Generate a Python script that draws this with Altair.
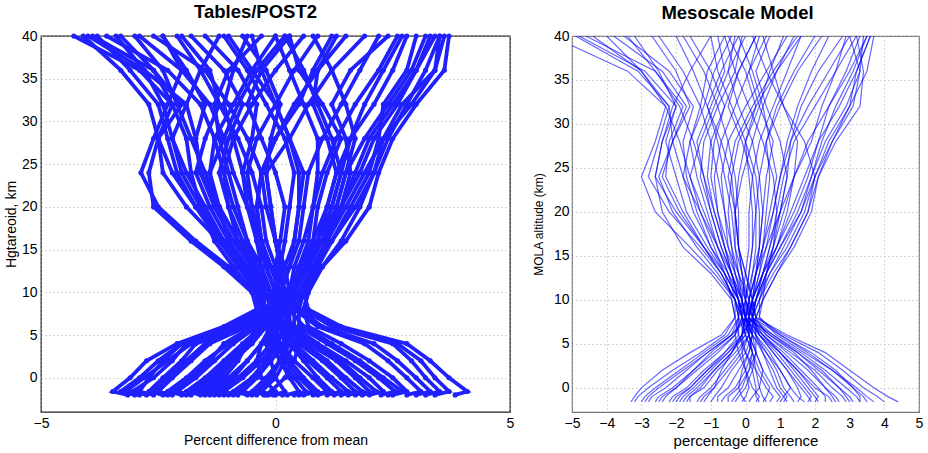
import altair as alt
import pandas as pd

# ---------------- Left panel: Tables/POST2 ----------------
left_levels = [-2, -1.6, 0, 2, 4, 6, 8, 10, 13, 16, 20, 24, 28, 32, 36, 40]
left_profiles = [
    [-3.15, -3.47, -3.1, -2.75, -2.1, -1.1, -0.4, -0.5, -0.9, -1.3, -1.6, -1.8, -1.9, -2.2, -2.6, -3.3],
    [-2.6, -2.9, -2.7, -2.4, -2.0, -0.9, -0.3, -0.3, -0.7, -1.2, -1.9, -2.4, -2.5, -2.2, -2.9, -4.3],
    [-2.4, -2.7, -2.4, -2.0, -1.7, -0.7, -0.2, -0.4, -1.0, -1.7, -2.5, -2.87, -2.6, -2.3, -2.0, -2.4],
    [-2.2, -2.5, -2.2, -1.8, -1.4, -0.6, 0.0, -0.1, -0.3, -0.6, -0.9, -1.1, -1.3, -1.6, -2.3, -3.6],
    [-2.0, -2.3, -1.9, -1.5, -1.0, -0.5, -0.2, -0.3, -0.6, -1.0, -1.4, -1.7, -1.5, -1.2, -1.4, -2.0],
    [-1.8, -2.1, -1.7, -1.3, -0.9, -0.4, 0.1, 0.0, -0.2, -0.4, -0.6, -0.7, -0.5, -0.4, -0.8, -1.5],
    [-1.6, -1.9, -1.5, -1.1, -0.7, -0.3, -0.1, -0.2, -0.5, -0.8, -1.2, -1.5, -1.8, -2.1, -2.4, -3.0],
    [-1.4, -1.7, -1.3, -0.9, -0.5, -0.2, 0.2, 0.3, 0.2, 0.0, -0.2, -0.3, -0.6, -1.0, -1.5, -2.6],
    [-1.2, -1.5, -1.1, -0.8, -0.6, -0.4, 0.0, 0.1, -0.1, -0.3, -0.5, -0.7, -0.9, -1.1, -0.9, -0.6],
    [-1.0, -1.3, -0.9, -0.6, -0.3, -0.1, -0.3, -0.4, -0.7, -1.1, -1.5, -1.9, -2.2, -1.9, -1.6, -1.2],
    [-0.8, -1.1, -0.7, -0.3, 0.0, 0.3, 0.3, 0.2, 0.1, 0.0, -0.1, -0.2, -0.1, 0.1, -0.2, -0.7],
    [-0.6, -0.9, -0.5, -0.2, 0.1, 0.0, -0.1, -0.2, -0.4, -0.6, -0.8, -1.0, -1.2, -1.3, -1.0, -0.3],
    [-0.4, -0.7, -0.4, -0.1, 0.2, 0.1, 0.1, 0.3, 0.5, 0.7, 0.8, 0.9, 0.9, 0.6, 0.3, 0.0],
    [-0.2, -0.5, -0.2, 0.1, 0.3, 0.2, 0.0, 0.0, 0.1, 0.2, 0.3, 0.4, 0.2, -0.2, -0.6, -1.1],
    [-0.05, -0.3, 0.0, 0.2, 0.4, 0.3, 0.2, 0.4, 0.7, 1.0, 1.3, 1.5, 1.7, 1.5, 1.2, 0.8],
    [0.0, 0.2, 0.0, -0.1, -0.2, -0.1, 0.0, -0.1, -0.3, -0.4, -0.5, -0.6, -0.4, 0.0, 0.4, 0.9],
    [0.25, 0.5, 0.3, 0.1, -0.1, -0.2, -0.1, 0.1, 0.3, 0.5, 0.6, 0.7, 1.0, 1.4, 1.8, 2.2],
    [0.5, 0.8, 0.5, 0.2, 0.0, -0.2, 0.0, 0.2, 0.6, 1.0, 1.4, 1.7, 2.0, 2.5, 3.0, 3.4],
    [0.8, 1.1, 0.8, 0.4, 0.1, -0.1, -0.2, 0.0, 0.2, 0.4, 0.5, 0.6, 0.3, 0.0, -0.3, -0.5],
    [1.1, 1.4, 1.1, 0.7, 0.3, 0.1, 0.2, 0.3, 0.5, 0.8, 1.1, 1.3, 1.1, 0.8, 0.9, 1.3],
    [1.4, 1.7, 1.4, 1.0, 0.5, 0.0, -0.2, -0.4, -0.7, -1.0, -1.2, -1.4, -1.3, -0.9, -0.5, 0.0],
    [1.7, 2.0, 1.7, 1.3, 0.7, 0.2, 0.3, 0.5, 0.8, 1.1, 1.5, 1.9, 2.3, 2.9, 3.4, 3.6],
    [2.0, 2.3, 2.0, 1.5, 0.9, 0.4, 0.4, 0.6, 1.0, 1.4, 1.8, 2.1, 2.4, 2.8, 3.2, 3.5],
    [2.25, 2.55, 2.2, 1.7, 1.1, 0.5, 0.5, 0.6, 0.9, 1.2, 1.6, 2.0, 2.2, 2.3, 2.8, 3.0],
    [2.5, 2.8, 2.5, 2.0, 1.4, 0.7, 0.6, 0.7, 1.0, 1.5, 2.0, 2.2, 2.5, 3.0, 3.6, 3.7],
    [2.8, 3.1, 2.8, 2.4, 1.9, 0.9, 0.4, 0.2, 0.1, 0.0, -0.1, -0.2, 0.3, 0.7, 1.2, 1.9],
    [3.2, 3.5, 3.2, 2.9, 2.5, 1.2, 0.6, 0.7, 0.9, 1.1, 1.3, 1.5, 1.9, 2.4, 2.9, 3.2],
    [3.83, 4.09, 3.7, 3.3, 2.8, 1.4, 0.7, 0.6, 0.8, 1.1, 1.4, 1.8, 2.1, 2.6, 3.0, 3.3],
    [0.15, -0.1, 0.2, 0.4, 0.5, 0.4, 0.1, -0.3, -0.7, -1.1, -1.6, -2.0, -2.2, -2.4, -2.8, -3.4],
    [-0.25, 0.0, -0.3, -0.4, -0.3, -0.1, 0.1, 0.0, 0.0, 0.1, 0.2, 0.0, -0.3, -0.6, -0.3, 0.3],
    [-2.9, -3.2, -2.8, -2.3, -1.8, -0.8, -0.3, -0.5, -1.1, -1.8, -2.6, -2.7, -2.5, -2.0, -2.6, -3.9],
    [3.0, 3.3, 3.0, 2.6, 2.1, 1.0, 0.5, 0.5, 0.8, 1.2, 1.7, 2.1, 2.3, 2.7, 3.4, 3.5],
    [-1.3, -1.6, -1.2, -0.9, -0.6, -0.3, 0.0, 0.0, -0.2, -0.3, -0.4, -0.3, 0.0, 0.5, 0.8, 1.2],
    [1.25, 1.55, 1.2, 0.8, 0.4, 0.2, 0.3, 0.2, 0.0, -0.2, -0.3, -0.5, -0.8, -1.2, -1.6, -2.1],
    [-0.9, -1.2, -0.8, -0.4, -0.1, 0.1, 0.0, -0.1, -0.4, -0.8, -1.2, -1.6, -1.7, -1.5, -1.9, -2.4],
    [0.6, 0.9, 0.6, 0.3, 0.0, -0.1, 0.1, 0.3, 0.6, 0.8, 0.9, 1.1, 1.4, 1.0, 0.5, 0.3],
    [-3.0, -3.3, -2.9, -2.5, -2.0, -1.0, -0.3, -0.2, -0.5, -0.9, -1.3, -1.6, -1.7, -1.9, -2.8, -4.0],
    [-2.75, -3.05, -2.6, -2.2, -1.9, -0.8, -0.1, -0.2, -0.6, -1.1, -1.7, -2.1, -2.3, -2.5, -3.1, -3.8],
    [-2.3, -2.6, -2.3, -1.9, -1.5, -0.7, -0.1, 0.1, 0.3, 0.4, 0.5, 0.5, 0.3, 0.0, -0.5, -1.0],
    [-1.9, -2.2, -1.8, -1.4, -1.1, -0.5, 0.0, -0.2, -0.4, -0.7, -1.0, -1.2, -1.0, -0.7, -1.1, -1.8],
    [-1.5, -1.8, -1.4, -1.0, -0.6, -0.3, 0.2, 0.4, 0.7, 1.0, 1.2, 1.4, 1.2, 0.9, 0.6, 0.2],
    [-1.1, -1.4, -1.0, -0.6, -0.3, 0.0, 0.1, -0.1, -0.5, -0.9, -1.3, -1.4, -1.1, -0.8, -0.4, 0.2],
    [-0.5, -0.8, -0.5, -0.2, 0.0, 0.2, 0.3, 0.5, 0.8, 1.1, 1.4, 1.6, 1.5, 1.2, 1.6, 2.4],
    [0.4, 0.65, 0.4, 0.1, -0.1, 0.0, 0.2, 0.1, -0.1, -0.3, -0.6, -0.9, -1.1, -1.4, -2.0, -2.9],
    [0.9, 1.2, 0.9, 0.6, 0.3, 0.1, 0.0, -0.2, -0.5, -0.8, -1.0, -1.1, -0.9, -0.5, 0.0, 0.6],
    [1.55, 1.85, 1.5, 1.1, 0.6, 0.2, 0.1, 0.3, 0.6, 0.9, 1.2, 1.4, 1.6, 1.9, 2.3, 2.7],
    [1.85, 2.15, 1.8, 1.4, 0.8, 0.3, 0.2, 0.0, -0.2, -0.3, -0.4, -0.3, 0.0, 0.4, 0.9, 1.5],
    [2.4, 2.7, 2.3, 1.8, 1.2, 0.6, 0.3, 0.4, 0.6, 0.9, 1.1, 1.3, 1.6, 2.1, 2.5, 2.8],
    [3.4, 3.7, 3.4, 3.1, 2.6, 1.3, 0.5, 0.3, 0.4, 0.6, 0.8, 1.0, 1.3, 1.7, 2.2, 2.6],
    [-0.15, -0.4, -0.1, 0.1, 0.2, 0.1, -0.2, -0.4, -0.8, -1.2, -1.7, -2.2, -2.5, -2.7, -3.3, -4.1],
]

# ---------------- Right panel: Mesoscale Model ----------------
right_levels = [-1.6, -1, 0, 2, 4, 6, 8, 10, 13, 16, 20, 24, 28, 32, 36, 40]
right_profiles = [
    [4.4, 4.1, 3.7, 3.0, 2.3, 1.2, 0.3, 0.1, -0.2, -0.5, -0.8, -1.0, -0.9, -0.6, -0.2, 0.3],
    [3.3, 3.3, 3.1, 2.6, 1.9, 1.0, 0.2, 0.2, 0.5, 0.9, 1.3, 1.7, 2.1, 2.7, 3.2, 3.6],
    [3.3, 3.2, 2.9, 2.3, 1.6, 0.8, 0.0, 0.3, 0.7, 1.2, 1.7, 2.0, 2.4, 3.0, 3.5, 3.7],
    [3.7, 3.5, 3.2, 2.5, 1.7, 0.9, 0.4, 0.5, 0.9, 1.3, 1.8, 2.1, 2.6, 3.3, 3.4, 3.2],
    [2.7, 2.6, 2.3, 1.9, 1.4, 0.7, 0.1, 0.3, 0.6, 1.0, 1.5, 1.9, 2.2, 2.6, 3.1, 3.5],
    [2.3, 2.3, 2.1, 1.6, 1.1, 0.5, -0.1, -0.1, -0.3, -0.4, -0.6, -0.7, -0.5, 0.0, 0.6, 1.2],
    [1.8, 1.9, 1.7, 1.3, 0.9, 0.4, 0.1, 0.2, 0.4, 0.6, 0.8, 1.0, 1.3, 1.8, 2.4, 3.0],
    [1.7, 1.5, 1.3, 1.0, 0.7, 0.3, 0.0, -0.1, -0.4, -0.7, -1.0, -1.2, -1.4, -1.0, -0.6, -0.8],
    [1.2, 1.1, 1.3, 1.0, 0.6, 0.2, -0.1, 0.0, 0.2, 0.4, 0.5, 0.6, 0.8, 0.4, 0.1, 0.6],
    [0.9, 1.0, 0.8, 0.5, 0.3, 0.1, 0.0, 0.1, 0.3, 0.5, 0.7, 0.9, 0.7, 0.5, 0.9, 1.4],
    [0.5, 0.6, 0.7, 0.4, 0.2, 0.0, -0.2, -0.3, -0.5, -0.8, -1.2, -1.6, -1.9, -2.3, -3.0, -4.0],
    [0.1, 0.2, 0.4, 0.5, 0.3, 0.1, 0.1, 0.2, 0.4, 0.5, 0.6, 0.7, 0.6, 0.9, 1.4, 2.0],
    [-0.3, -0.2, 0.0, 0.2, 0.3, 0.2, 0.0, -0.1, -0.2, -0.3, -0.3, -0.2, 0.0, 0.3, 0.0, -0.5],
    [-0.7, -0.6, -0.3, 0.0, 0.2, 0.1, -0.1, -0.2, -0.5, -0.8, -1.1, -1.4, -1.6, -1.3, -1.8, -2.5],
    [-1.0, -0.9, -0.7, -0.4, 0.0, 0.2, 0.1, 0.2, 0.3, 0.4, 0.5, 0.4, 0.2, -0.2, -0.5, -0.3],
    [-1.4, -1.3, -1.0, -0.6, -0.2, 0.1, 0.0, -0.2, -0.6, -1.0, -1.4, -1.7, -1.8, -1.5, -2.2, -3.5],
    [-1.8, -1.7, -1.4, -0.9, -0.4, -0.1, 0.0, 0.1, 0.3, 0.4, 0.4, 0.3, 0.0, -0.4, -0.8, -1.0],
    [-2.2, -2.1, -1.7, -1.2, -0.6, -0.2, -0.2, -0.3, -0.7, -1.2, -1.8, -2.3, -2.2, -1.8, -2.6, -4.6],
    [-2.6, -2.5, -2.1, -1.5, -0.9, -0.3, -0.1, -0.3, -0.9, -1.6, -2.6, -3.0, -2.6, -2.3, -3.4, -5.6],
    [-3.0, -2.9, -2.6, -1.9, -1.2, -0.5, -0.2, -0.2, -0.6, -1.1, -1.7, -2.0, -2.3, -2.0, -2.5, -3.2],
    [-3.3, -3.2, -3.0, -2.4, -1.6, -0.7, -0.3, -0.4, -1.0, -1.8, -2.4, -2.6, -2.4, -2.1, -1.6, -1.0],
    [-2.4, -2.3, -2.0, -1.5, -1.0, -0.4, 0.1, 0.2, 0.3, 0.5, 0.8, 1.0, 1.2, 1.5, 1.9, 2.4],
    [2.0, 2.1, 1.9, 1.5, 1.0, 0.5, 0.2, 0.4, 0.8, 1.3, 1.8, 2.0, 1.7, 1.1, 0.6, 0.2],
    [-1.6, -1.6, -1.2, -0.8, -0.3, 0.1, 0.3, 0.2, 0.0, -0.2, -0.3, -0.4, -0.7, -1.1, -1.5, -2.0],
    [0.3, 0.4, 0.2, 0.0, -0.2, -0.3, -0.2, -0.1, 0.0, 0.1, 0.1, 0.2, 0.4, 0.8, 1.2, 1.6],
    [1.5, 1.6, 1.5, 1.2, 0.8, 0.4, 0.2, 0.1, -0.1, -0.3, -0.4, -0.6, -0.8, -1.1, -0.7, -0.2],
    [-0.5, -0.5, -0.2, 0.1, 0.3, 0.3, 0.2, 0.3, 0.6, 0.9, 1.2, 1.4, 1.5, 1.1, 0.8, 0.5],
    [-2.0, -1.9, -1.6, -1.1, -0.5, 0.0, -0.1, -0.2, -0.4, -0.7, -1.0, -1.3, -1.2, -0.8, -0.3, -0.1],
    [2.5, 2.4, 2.0, 1.5, 1.0, 0.4, 0.0, 0.1, 0.3, 0.6, 1.0, 1.4, 1.9, 2.2, 2.6, 2.9],
    [-1.2, -1.1, -0.9, -0.7, -0.4, -0.1, 0.2, 0.3, 0.5, 0.7, 0.9, 1.1, 1.4, 2.0, 2.6, 3.2],
    [0.7, 0.8, 0.6, 0.3, 0.0, -0.2, -0.3, -0.4, -0.6, -0.9, -1.3, -1.8, -2.1, -2.2, -3.0, -4.4],
    [3.0, 2.9, 2.7, 2.2, 1.5, 0.7, 0.2, 0.3, 0.6, 1.0, 1.6, 1.9, 2.3, 2.9, 3.3, 3.0],
    [-2.8, -2.7, -2.3, -1.7, -1.1, -0.4, 0.0, -0.1, -0.5, -1.0, -1.5, -1.8, -1.6, -1.2, -0.9, -0.4],
    [1.0, 1.1, 0.9, 0.7, 0.5, 0.3, 0.3, 0.5, 0.6, 0.8, 0.9, 0.8, 0.5, 0.1, -0.3, -0.6],
    [-0.1, 0.0, 0.1, 0.0, -0.1, -0.1, 0.0, 0.0, -0.1, -0.2, -0.2, -0.3, -0.5, -0.8, -1.2, -1.8],
    [3.5, 3.4, 3.1, 2.5, 1.8, 1.0, 0.4, 0.4, 0.7, 1.1, 1.6, 2.0, 2.5, 3.1, 3.3, 3.4],
    [4.0, 3.8, 3.4, 2.8, 2.1, 1.1, 0.3, 0.2, 0.0, -0.2, -0.3, -0.5, -0.3, 0.2, 0.8, 1.5],
    [3.1, 3.0, 2.7, 2.1, 1.5, 0.8, 0.2, 0.0, -0.3, -0.6, -0.9, -1.2, -1.5, -1.9, -2.6, -3.4],
    [2.9, 2.8, 2.5, 2.0, 1.3, 0.6, 0.1, 0.2, 0.5, 0.9, 1.4, 1.8, 2.1, 2.4, 2.9, 3.3],
    [2.1, 2.0, 1.8, 1.4, 1.0, 0.5, 0.1, 0.0, 0.1, 0.2, 0.3, 0.4, 0.6, 1.0, 1.5, 2.2],
    [1.4, 1.3, 1.1, 0.9, 0.6, 0.3, 0.0, 0.2, 0.5, 0.8, 1.1, 1.4, 1.8, 2.4, 3.0, 3.5],
    [0.6, 0.5, 0.4, 0.3, 0.2, 0.0, -0.1, -0.2, -0.4, -0.6, -0.8, -0.9, -0.7, -0.3, 0.1, 0.4],
    [0.0, -0.1, -0.2, -0.1, 0.1, 0.2, 0.2, 0.3, 0.5, 0.7, 1.0, 1.2, 1.0, 0.6, 0.3, 0.7],
    [-0.8, -0.8, -0.5, -0.2, 0.1, 0.2, 0.0, -0.2, -0.4, -0.6, -0.9, -1.1, -1.0, -0.6, -1.0, -1.6],
    [-1.3, -1.2, -0.9, -0.5, -0.1, 0.1, -0.1, -0.3, -0.7, -1.2, -1.9, -2.4, -2.1, -1.7, -2.4, -3.8],
    [-1.7, -1.6, -1.3, -0.9, -0.4, 0.0, 0.1, 0.0, -0.1, -0.2, -0.3, -0.1, 0.2, 0.5, 0.2, -0.2],
    [-2.1, -2.0, -1.6, -1.1, -0.6, -0.1, 0.0, -0.1, -0.4, -0.8, -1.3, -1.6, -1.3, -0.9, -0.5, 0.0],
    [-2.5, -2.4, -2.0, -1.4, -0.8, -0.3, -0.1, -0.2, -0.6, -1.2, -2.0, -2.6, -2.4, -2.0, -2.9, -4.8],
    [-2.9, -2.8, -2.5, -1.8, -1.1, -0.4, -0.2, -0.3, -0.8, -1.4, -2.1, -2.5, -2.1, -1.6, -2.0, -2.7],
    [-3.2, -3.1, -2.8, -2.1, -1.3, -0.6, -0.3, -0.3, -0.7, -1.3, -2.2, -2.8, -2.5, -2.2, -3.1, -4.9],
    [1.1, 1.2, 1.0, 0.8, 0.5, 0.2, 0.0, -0.1, -0.3, -0.5, -0.6, -0.8, -1.0, -1.3, -1.1, -0.6],
    [-0.4, -0.3, -0.1, 0.1, 0.2, 0.1, 0.1, 0.1, 0.2, 0.3, 0.3, 0.2, -0.1, -0.5, -0.2, 0.3],
    [2.6, 2.5, 2.3, 1.8, 1.2, 0.6, 0.3, 0.5, 0.9, 1.4, 1.9, 2.1, 2.5, 3.0, 3.2, 3.6],
    [1.9, 1.8, 1.6, 1.2, 0.8, 0.4, 0.2, 0.0, -0.2, -0.4, -0.5, -0.4, -0.2, 0.3, 0.9, 1.6],
    [-1.9, -1.8, -1.5, -1.0, -0.5, -0.1, 0.2, 0.4, 0.6, 0.8, 1.0, 1.2, 1.3, 1.6, 2.1, 2.8],
    [0.4, 0.3, 0.3, 0.2, 0.0, -0.1, -0.1, 0.0, 0.1, 0.2, 0.2, 0.1, 0.0, 0.4, 0.7, 1.1],
]

left_title = "Tables/POST2"
right_title = "Mesoscale Model"
left_xlabel = "Percent difference from mean"
left_ylabel = "Hgtareoid, km"
right_xlabel = "percentage difference"
right_ylabel = "MOLA altitude (km)"
y_ticks = [0, 5, 10, 15, 20, 25, 30, 35, 40]
left_x_ticks = [-5, 0, 5]
right_x_ticks = [-5, -4, -3, -2, -1, 0, 1, 2, 3, 4, 5]


def to_frame(levels, profiles):
    rows = []
    for pid, prof in enumerate(profiles):
        for k, (yv, xv) in enumerate(zip(levels, prof)):
            rows.append({"id": pid, "k": k, "x": xv, "y": yv})
    return pd.DataFrame(rows)


df_left = to_frame(left_levels, left_profiles)
df_right = to_frame(right_levels, right_profiles)

FONT = "Liberation Sans"
BLUE = "#2020ff"

grid_kw = dict(grid=True, gridColor="#b0b0b0", gridDash=[1, 3], gridWidth=1,
               ticks=False, domain=False, labelFont=FONT, titleFont=FONT,
               labelColor="black", titleColor="black", titleFontWeight="normal",
               labelFlush=False)

lx = alt.X("x:Q", scale=alt.Scale(domain=[-5, 5], nice=False, zero=False),
           axis=alt.Axis(values=left_x_ticks, title=left_xlabel, labelFontSize=14,
                         titleFontSize=14, labelPadding=4, titlePadding=3, **grid_kw))
ly = alt.Y("y:Q", scale=alt.Scale(domain=[-4, 40], nice=False, zero=False),
           axis=alt.Axis(values=y_ticks, title=left_ylabel, labelFontSize=14,
                         titleFontSize=14, labelPadding=4, titlePadding=3, **grid_kw))

left_base = alt.Chart(df_left)
left_lines = left_base.mark_line(color=BLUE, strokeWidth=3.8, opacity=1).encode(
    x=lx, y=ly, detail="id:N", order=alt.Order("k:Q"))
left_pts = left_base.mark_circle(color=BLUE, size=26, opacity=1).encode(x=lx, y=ly)
left = alt.layer(left_lines, left_pts).properties(
    width=469, height=376,
    view=alt.ViewConfig(stroke="#222222", strokeWidth=1.3),
    title=alt.Title(left_title, font=FONT, fontSize=18.5, fontWeight="bold",
                    offset=7, dx=-20))

rx = alt.X("x:Q", scale=alt.Scale(domain=[-5, 5], nice=False, zero=False),
           axis=alt.Axis(values=right_x_ticks, title=right_xlabel, labelFontSize=14,
                         titleFontSize=15, labelPadding=4, titlePadding=3, **grid_kw))
ry = alt.Y("y:Q", scale=alt.Scale(domain=[-2.75, 40], nice=False, zero=False),
           axis=alt.Axis(values=y_ticks, title=right_ylabel, labelFontSize=14,
                         titleFontSize=12, labelPadding=3, titlePadding=8, **grid_kw))

right = alt.Chart(df_right).mark_line(color="#0000ff", strokeWidth=1.2, opacity=0.6,
                                      clip=True).encode(
    x=rx, y=ry, detail="id:N", order=alt.Order("k:Q")).properties(
    width=347, height=376,
    view=alt.ViewConfig(stroke="#777777", strokeWidth=1.2),
    title=alt.Title(right_title, font=FONT, fontSize=18.5, fontWeight="bold",
                    offset=7, dx=-8))

chart = alt.hconcat(left, right, spacing=16).properties(
    padding={"left": 3, "top": 2, "right": 0, "bottom": 0},
    background="white"
)

chart.save("out.html", embed_options={"renderer": "svg", "actions": False})
